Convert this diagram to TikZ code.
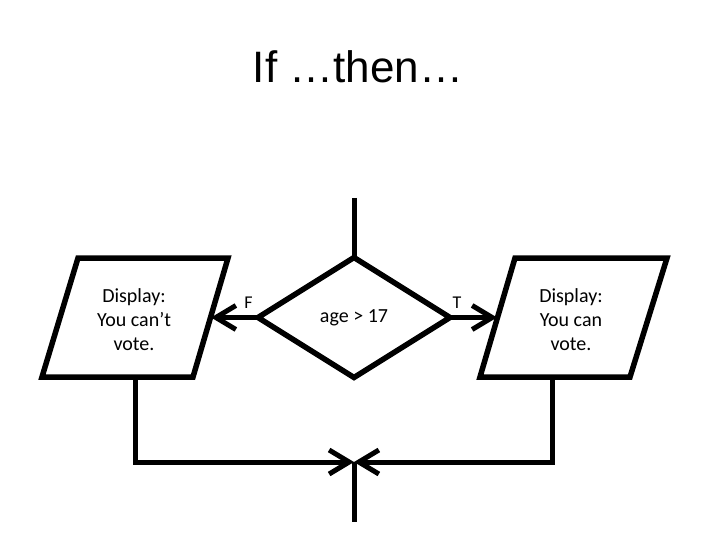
\documentclass[tikz,border=0pt]{standalone}
\usepackage{fontspec}
\setmainfont{Carlito}
\newfontfamily\titlefont{Liberation Sans}
\usetikzlibrary{shapes.geometric, arrows.meta, positioning}

\tikzset{
  shapeline/.style={line width=5.5pt, black},
  flowline/.style={line width=5pt, black},
  flowarrow/.style={flowline, -{Straight Barb[length=20pt, width=24pt]}},
  decision/.style={diamond, draw, shapeline, minimum width=192pt, minimum height=120pt, inner sep=0pt, outer sep=0pt, font=\fontsize{20}{24}\selectfont},
  iotext/.style={align=center, font=\fontsize{20}{24}\selectfont},
  branch/.style={font=\fontsize{18}{20}\selectfont}
}

\begin{document}
\begin{tikzpicture}[x=1pt, y=-1pt]
        \useasboundingbox (0,0) rectangle (720,540);
        \node[anchor=base, font=\titlefont\fontsize{44}{48}\selectfont] (title) at (358,83) {If …then…};
        % decision
        \node[decision] (age) at (354,317.5) {age > 17};
        \coordinate (start) at (354,198);
        \draw[flowline] (start) -- (age.north);
        % output boxes
        \draw[shapeline] (78,258) -- (228,258) -- (193,377) -- (42,377) -- cycle;
        \node[iotext] (cant) at (134,320) {Display:\\You can’t\\vote.};
        \draw[shapeline] (515,258) -- (667,258) -- (630,377) -- (480,377) -- cycle;
        \node[iotext] (can) at (571,320) {Display:\\You can\\vote.};
        \coordinate (cantin) at (211,317.5);
        \coordinate (canin) at (497,317.5);
        \coordinate (cantout) at (135,377);
        \coordinate (canout) at (552,377);
        \coordinate (merge) at (354,462);
        \coordinate (stop) at (354,522);
        \draw[flowarrow] (age.west) -- (cantin) node[branch, pos=0.2, above=3pt] (f) {F};
        \draw[flowarrow] (age.east) -- (canin) node[branch, pos=0.15, above=3pt] (t) {T};
        \draw[flowarrow] (cantout) |- (merge);
        \draw[flowarrow] (canout) |- (merge);
        \draw[flowline] (merge) -- (stop);
    \end{tikzpicture}
\end{document}
